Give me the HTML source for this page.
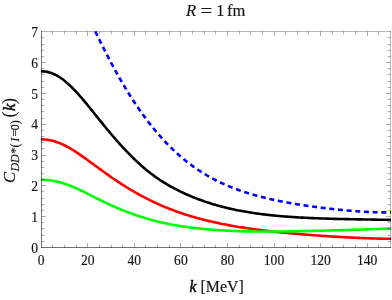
<!DOCTYPE html>
<html><head><meta charset="utf-8"><style>
html,body{margin:0;padding:0;background:#fff;}
svg{display:block;font-family:"Liberation Serif",serif;will-change:transform;opacity:0.999;}
text{stroke:#111;stroke-width:0.15px;}
</style></head><body>
<svg width="392" height="300" viewBox="0 0 392 300">
<rect width="392" height="300" fill="#fff"/>
<defs><clipPath id="c"><rect x="41" y="31" width="350" height="217"/></clipPath></defs>
<g clip-path="url(#c)" fill="none" stroke-width="2.6" stroke-linejoin="round">
<path d="M41.00,139.39 L42.46,139.39 L43.93,139.45 L45.39,139.55 L46.86,139.70 L48.32,139.91 L49.79,140.16 L51.25,140.47 L52.72,140.82 L54.18,141.22 L55.64,141.66 L57.11,142.16 L58.57,142.69 L60.04,143.27 L61.50,143.90 L62.97,144.56 L64.43,145.26 L65.90,146.00 L67.36,146.78 L68.82,147.59 L70.29,148.43 L71.75,149.31 L73.22,150.21 L74.68,151.14 L76.15,152.09 L77.61,153.06 L79.08,154.06 L80.54,155.07 L82.00,156.09 L83.47,157.13 L84.93,158.17 L86.40,159.23 L87.86,160.29 L89.33,161.36 L90.79,162.43 L92.26,163.50 L93.72,164.57 L95.18,165.64 L96.65,166.71 L98.11,167.78 L99.58,168.85 L101.04,169.91 L102.51,170.97 L103.97,172.03 L105.44,173.07 L106.90,174.12 L108.36,175.15 L109.83,176.18 L111.29,177.20 L112.76,178.21 L114.22,179.21 L115.69,180.20 L117.15,181.18 L118.62,182.15 L120.08,183.12 L121.54,184.07 L123.01,185.00 L124.47,185.93 L125.94,186.85 L127.40,187.75 L128.87,188.64 L130.33,189.52 L131.79,190.39 L133.26,191.25 L134.72,192.10 L136.19,192.93 L137.65,193.75 L139.12,194.56 L140.58,195.36 L142.05,196.15 L143.51,196.92 L144.97,197.69 L146.44,198.44 L147.90,199.18 L149.37,199.91 L150.83,200.63 L152.30,201.33 L153.76,202.03 L155.23,202.71 L156.69,203.39 L158.15,204.05 L159.62,204.70 L161.08,205.34 L162.55,205.97 L164.01,206.59 L165.48,207.20 L166.94,207.80 L168.41,208.38 L169.87,208.96 L171.33,209.53 L172.80,210.08 L174.26,210.63 L175.73,211.17 L177.19,211.70 L178.66,212.21 L180.12,212.72 L181.59,213.22 L183.05,213.71 L184.51,214.19 L185.98,214.67 L187.44,215.13 L188.91,215.58 L190.37,216.03 L191.84,216.47 L193.30,216.90 L194.77,217.32 L196.23,217.74 L197.69,218.14 L199.16,218.54 L200.62,218.93 L202.09,219.32 L203.55,219.69 L205.02,220.06 L206.48,220.43 L207.95,220.78 L209.41,221.13 L210.87,221.48 L212.34,221.81 L213.80,222.14 L215.27,222.47 L216.73,222.79 L218.20,223.10 L219.66,223.41 L221.13,223.71 L222.59,224.00 L224.05,224.29 L225.52,224.58 L226.98,224.86 L228.45,225.13 L229.91,225.40 L231.38,225.66 L232.84,225.92 L234.31,226.18 L235.77,226.43 L237.23,226.68 L238.70,226.92 L240.16,227.16 L241.63,227.39 L243.09,227.62 L244.56,227.84 L246.02,228.06 L247.49,228.28 L248.95,228.49 L250.41,228.70 L251.88,228.91 L253.34,229.11 L254.81,229.31 L256.27,229.51 L257.74,229.70 L259.20,229.89 L260.67,230.08 L262.13,230.26 L263.59,230.44 L265.06,230.62 L266.52,230.79 L267.99,230.97 L269.45,231.13 L270.92,231.30 L272.38,231.46 L273.85,231.63 L275.31,231.79 L276.77,231.94 L278.24,232.10 L279.70,232.25 L281.17,232.40 L282.63,232.55 L284.10,232.69 L285.56,232.83 L287.03,232.98 L288.49,233.11 L289.95,233.25 L291.42,233.39 L292.88,233.52 L294.35,233.65 L295.81,233.78 L297.28,233.91 L298.74,234.04 L300.21,234.16 L301.67,234.28 L303.13,234.41 L304.60,234.53 L306.06,234.64 L307.53,234.76 L308.99,234.88 L310.46,234.99 L311.92,235.10 L313.38,235.21 L314.85,235.32 L316.31,235.43 L317.78,235.53 L319.24,235.64 L320.71,235.74 L322.17,235.84 L323.64,235.94 L325.10,236.04 L326.56,236.14 L328.03,236.24 L329.49,236.33 L330.96,236.43 L332.42,236.52 L333.89,236.61 L335.35,236.70 L336.82,236.78 L338.28,236.87 L339.74,236.96 L341.21,237.04 L342.67,237.12 L344.14,237.20 L345.60,237.28 L347.07,237.36 L348.53,237.43 L350.00,237.51 L351.46,237.58 L352.92,237.65 L354.39,237.72 L355.85,237.79 L357.32,237.86 L358.78,237.92 L360.25,237.98 L361.71,238.05 L363.18,238.10 L364.64,238.16 L366.10,238.22 L367.57,238.27 L369.03,238.32 L370.50,238.37 L371.96,238.42 L373.43,238.46 L374.89,238.51 L376.36,238.55 L377.82,238.59 L379.28,238.62 L380.75,238.66 L382.21,238.69 L383.68,238.72 L385.14,238.75 L386.61,238.77 L388.07,238.79 L389.54,238.81 L391.00,238.82" stroke="#ff0000"/>
<path d="M41.00,179.75 L42.46,179.75 L43.93,179.79 L45.39,179.87 L46.86,179.98 L48.32,180.12 L49.79,180.29 L51.25,180.50 L52.72,180.73 L54.18,181.00 L55.64,181.30 L57.11,181.63 L58.57,181.98 L60.04,182.37 L61.50,182.78 L62.97,183.23 L64.43,183.69 L65.90,184.18 L67.36,184.70 L68.82,185.24 L70.29,185.80 L71.75,186.39 L73.22,186.99 L74.68,187.62 L76.15,188.26 L77.61,188.91 L79.08,189.59 L80.54,190.27 L82.00,190.97 L83.47,191.68 L84.93,192.40 L86.40,193.12 L87.86,193.86 L89.33,194.59 L90.79,195.33 L92.26,196.08 L93.72,196.82 L95.18,197.56 L96.65,198.30 L98.11,199.03 L99.58,199.77 L101.04,200.49 L102.51,201.21 L103.97,201.93 L105.44,202.63 L106.90,203.33 L108.36,204.02 L109.83,204.70 L111.29,205.37 L112.76,206.03 L114.22,206.67 L115.69,207.31 L117.15,207.94 L118.62,208.55 L120.08,209.16 L121.54,209.75 L123.01,210.34 L124.47,210.91 L125.94,211.48 L127.40,212.03 L128.87,212.57 L130.33,213.11 L131.79,213.64 L133.26,214.16 L134.72,214.67 L136.19,215.18 L137.65,215.67 L139.12,216.16 L140.58,216.65 L142.05,217.12 L143.51,217.59 L144.97,218.04 L146.44,218.49 L147.90,218.93 L149.37,219.35 L150.83,219.77 L152.30,220.17 L153.76,220.57 L155.23,220.95 L156.69,221.32 L158.15,221.68 L159.62,222.03 L161.08,222.37 L162.55,222.70 L164.01,223.02 L165.48,223.34 L166.94,223.64 L168.41,223.94 L169.87,224.22 L171.33,224.50 L172.80,224.77 L174.26,225.04 L175.73,225.29 L177.19,225.54 L178.66,225.79 L180.12,226.02 L181.59,226.25 L183.05,226.47 L184.51,226.69 L185.98,226.90 L187.44,227.10 L188.91,227.30 L190.37,227.49 L191.84,227.68 L193.30,227.86 L194.77,228.03 L196.23,228.20 L197.69,228.37 L199.16,228.53 L200.62,228.68 L202.09,228.83 L203.55,228.97 L205.02,229.11 L206.48,229.24 L207.95,229.37 L209.41,229.50 L210.87,229.62 L212.34,229.73 L213.80,229.84 L215.27,229.95 L216.73,230.05 L218.20,230.15 L219.66,230.24 L221.13,230.33 L222.59,230.42 L224.05,230.50 L225.52,230.58 L226.98,230.65 L228.45,230.73 L229.91,230.79 L231.38,230.86 L232.84,230.92 L234.31,230.98 L235.77,231.03 L237.23,231.08 L238.70,231.13 L240.16,231.18 L241.63,231.22 L243.09,231.26 L244.56,231.29 L246.02,231.33 L247.49,231.36 L248.95,231.39 L250.41,231.41 L251.88,231.44 L253.34,231.46 L254.81,231.48 L256.27,231.50 L257.74,231.51 L259.20,231.52 L260.67,231.53 L262.13,231.54 L263.59,231.55 L265.06,231.55 L266.52,231.55 L267.99,231.55 L269.45,231.55 L270.92,231.55 L272.38,231.54 L273.85,231.54 L275.31,231.53 L276.77,231.52 L278.24,231.51 L279.70,231.50 L281.17,231.48 L282.63,231.47 L284.10,231.45 L285.56,231.43 L287.03,231.42 L288.49,231.40 L289.95,231.37 L291.42,231.35 L292.88,231.33 L294.35,231.30 L295.81,231.28 L297.28,231.25 L298.74,231.23 L300.21,231.20 L301.67,231.17 L303.13,231.14 L304.60,231.11 L306.06,231.08 L307.53,231.05 L308.99,231.01 L310.46,230.98 L311.92,230.94 L313.38,230.91 L314.85,230.88 L316.31,230.84 L317.78,230.80 L319.24,230.77 L320.71,230.73 L322.17,230.69 L323.64,230.65 L325.10,230.61 L326.56,230.57 L328.03,230.54 L329.49,230.50 L330.96,230.45 L332.42,230.41 L333.89,230.37 L335.35,230.33 L336.82,230.29 L338.28,230.25 L339.74,230.21 L341.21,230.16 L342.67,230.12 L344.14,230.08 L345.60,230.03 L347.07,229.99 L348.53,229.95 L350.00,229.90 L351.46,229.86 L352.92,229.81 L354.39,229.77 L355.85,229.72 L357.32,229.68 L358.78,229.63 L360.25,229.59 L361.71,229.54 L363.18,229.49 L364.64,229.45 L366.10,229.40 L367.57,229.35 L369.03,229.30 L370.50,229.26 L371.96,229.21 L373.43,229.16 L374.89,229.11 L376.36,229.06 L377.82,229.01 L379.28,228.96 L380.75,228.91 L382.21,228.86 L383.68,228.81 L385.14,228.76 L386.61,228.71 L388.07,228.65 L389.54,228.60 L391.00,228.55" stroke="#00ff00"/>
<path d="M41.00,71.34 L42.46,71.34 L43.93,71.42 L45.39,71.58 L46.86,71.82 L48.32,72.14 L49.79,72.54 L51.25,73.02 L52.72,73.58 L54.18,74.22 L55.64,74.93 L57.11,75.71 L58.57,76.57 L60.04,77.50 L61.50,78.50 L62.97,79.57 L64.43,80.70 L65.90,81.90 L67.36,83.15 L68.82,84.47 L70.29,85.84 L71.75,87.27 L73.22,88.74 L74.68,90.26 L76.15,91.83 L77.61,93.43 L79.08,95.07 L80.54,96.75 L82.00,98.45 L83.47,100.18 L84.93,101.92 L86.40,103.69 L87.86,105.48 L89.33,107.27 L90.79,109.08 L92.26,110.89 L93.72,112.71 L95.18,114.53 L96.65,116.36 L98.11,118.18 L99.58,120.00 L101.04,121.82 L102.51,123.62 L103.97,125.42 L105.44,127.22 L106.90,129.00 L108.36,130.76 L109.83,132.52 L111.29,134.26 L112.76,135.98 L114.22,137.69 L115.69,139.38 L117.15,141.05 L118.62,142.70 L120.08,144.33 L121.54,145.94 L123.01,147.53 L124.47,149.09 L125.94,150.64 L127.40,152.16 L128.87,153.66 L130.33,155.14 L131.79,156.60 L133.26,158.04 L134.72,159.45 L136.19,160.84 L137.65,162.21 L139.12,163.56 L140.58,164.88 L142.05,166.18 L143.51,167.45 L144.97,168.71 L146.44,169.93 L147.90,171.13 L149.37,172.30 L150.83,173.45 L152.30,174.57 L153.76,175.66 L155.23,176.73 L156.69,177.77 L158.15,178.78 L159.62,179.77 L161.08,180.73 L162.55,181.67 L164.01,182.58 L165.48,183.47 L166.94,184.35 L168.41,185.20 L169.87,186.03 L171.33,186.84 L172.80,187.64 L174.26,188.42 L175.73,189.18 L177.19,189.93 L178.66,190.66 L180.12,191.39 L181.59,192.09 L183.05,192.78 L184.51,193.46 L185.98,194.13 L187.44,194.78 L188.91,195.42 L190.37,196.04 L191.84,196.65 L193.30,197.25 L194.77,197.84 L196.23,198.41 L197.69,198.98 L199.16,199.53 L200.62,200.07 L202.09,200.59 L203.55,201.11 L205.02,201.61 L206.48,202.11 L207.95,202.59 L209.41,203.06 L210.87,203.52 L212.34,203.97 L213.80,204.41 L215.27,204.84 L216.73,205.26 L218.20,205.67 L219.66,206.07 L221.13,206.47 L222.59,206.85 L224.05,207.22 L225.52,207.59 L226.98,207.94 L228.45,208.29 L229.91,208.63 L231.38,208.96 L232.84,209.28 L234.31,209.59 L235.77,209.90 L237.23,210.20 L238.70,210.49 L240.16,210.77 L241.63,211.05 L243.09,211.31 L244.56,211.58 L246.02,211.83 L247.49,212.08 L248.95,212.32 L250.41,212.55 L251.88,212.78 L253.34,213.00 L254.81,213.22 L256.27,213.43 L257.74,213.63 L259.20,213.83 L260.67,214.02 L262.13,214.21 L263.59,214.39 L265.06,214.57 L266.52,214.74 L267.99,214.91 L269.45,215.07 L270.92,215.23 L272.38,215.38 L273.85,215.53 L275.31,215.67 L276.77,215.81 L278.24,215.94 L279.70,216.07 L281.17,216.20 L282.63,216.32 L284.10,216.44 L285.56,216.55 L287.03,216.66 L288.49,216.77 L289.95,216.88 L291.42,216.98 L292.88,217.07 L294.35,217.17 L295.81,217.26 L297.28,217.35 L298.74,217.43 L300.21,217.52 L301.67,217.60 L303.13,217.67 L304.60,217.75 L306.06,217.82 L307.53,217.89 L308.99,217.96 L310.46,218.02 L311.92,218.09 L313.38,218.15 L314.85,218.21 L316.31,218.27 L317.78,218.32 L319.24,218.37 L320.71,218.43 L322.17,218.48 L323.64,218.53 L325.10,218.57 L326.56,218.62 L328.03,218.66 L329.49,218.71 L330.96,218.75 L332.42,218.79 L333.89,218.83 L335.35,218.87 L336.82,218.90 L338.28,218.94 L339.74,218.97 L341.21,219.01 L342.67,219.04 L344.14,219.07 L345.60,219.10 L347.07,219.14 L348.53,219.17 L350.00,219.20 L351.46,219.22 L352.92,219.25 L354.39,219.28 L355.85,219.31 L357.32,219.34 L358.78,219.36 L360.25,219.39 L361.71,219.41 L363.18,219.44 L364.64,219.46 L366.10,219.49 L367.57,219.51 L369.03,219.54 L370.50,219.56 L371.96,219.59 L373.43,219.61 L374.89,219.63 L376.36,219.66 L377.82,219.68 L379.28,219.70 L380.75,219.73 L382.21,219.75 L383.68,219.77 L385.14,219.80 L386.61,219.82 L388.07,219.84 L389.54,219.86 L391.00,219.89" stroke="#000"/>
<path d="M88.60,17.23 L89.11,18.32 L89.61,19.40 L90.12,20.48 L90.63,21.56 L91.14,22.64 L91.64,23.71 L92.15,24.79 L92.66,25.86 L93.16,26.92 L93.67,27.99 L94.18,29.05 L94.68,30.11 L95.19,31.16 L95.70,32.22 L96.21,33.27 L96.71,34.32 L97.22,35.36 L97.73,36.40 L98.23,37.44 L98.74,38.48 L99.25,39.51 L99.75,40.54 L100.26,41.57 L100.77,42.59 L101.28,43.61 L101.78,44.63 L102.29,45.65 L102.80,46.66 L103.30,47.67 L103.81,48.67 L104.32,49.67 L104.82,50.67 L105.33,51.66 L105.84,52.65 L106.35,53.64 L106.85,54.63 L107.36,55.61 L107.87,56.58 L108.37,57.56 L108.88,58.53 L109.39,59.49 L109.89,60.45 L110.40,61.41 L110.91,62.37 L111.42,63.32 L111.92,64.27 L112.43,65.21 L112.94,66.15 L113.44,67.09 L113.95,68.02 L114.46,68.95 L114.96,69.88 L115.47,70.80 L115.98,71.71 L116.49,72.63 L116.99,73.54 L117.50,74.44 L118.01,75.34 L118.51,76.24 L119.02,77.14 L119.53,78.03 L120.03,78.91 L120.54,79.79 L121.05,80.67 L121.56,81.54 L122.06,82.41 L122.57,83.28 L123.08,84.14 L123.58,85.00 L124.09,85.85 L124.60,86.70 L125.10,87.55 L125.61,88.39 L126.12,89.23 L126.63,90.06 L127.13,90.89 L127.64,91.71 L128.15,92.53 L128.65,93.35 L129.16,94.16 L129.67,94.97 L130.17,95.78 L130.68,96.58 L131.19,97.37 L131.70,98.17 L132.20,98.95 L132.71,99.74 L133.22,100.52 L133.72,101.29 L134.23,102.06 L134.74,102.83 L135.25,103.59 L135.75,104.35 L136.26,105.11 L136.77,105.86 L137.27,106.61 L137.78,107.35 L138.29,108.09 L138.79,108.82 L139.30,109.55 L139.81,110.28 L140.32,111.00 L140.82,111.72 L141.33,112.44 L141.84,113.15 L142.34,113.86 L142.85,114.56 L143.36,115.26 L143.86,115.95 L144.37,116.64 L144.88,117.33 L145.39,118.01 L145.89,118.69 L146.40,119.37 L146.91,120.04 L147.41,120.71 L147.92,121.37 L148.43,122.03 L148.93,122.69 L149.44,123.34 L149.95,123.99 L150.46,124.63 L150.96,125.27 L151.47,125.91 L151.98,126.54 L152.48,127.17 L152.99,127.80 L153.50,128.42 L154.00,129.04 L154.51,129.65 L155.02,130.26 L155.53,130.87 L156.03,131.47 L156.54,132.07 L157.05,132.67 L157.55,133.26 L158.06,133.85 L158.57,134.43 L159.07,135.01 L159.58,135.59 L160.09,136.17 L160.60,136.74 L161.10,137.30 L161.61,137.87 L162.12,138.43 L162.62,138.98 L163.13,139.53 L163.64,140.08 L164.14,140.63 L164.65,141.17 L165.16,141.71 L165.67,142.25 L166.17,142.78 L166.68,143.31 L167.19,143.83 L167.69,144.35 L168.20,144.87 L168.71,145.38 L169.21,145.89 L169.72,146.40 L170.23,146.91 L170.74,147.41 L171.24,147.91 L171.75,148.40 L172.26,148.89 L172.76,149.38 L173.27,149.86 L173.78,150.34 L174.28,150.82 L174.79,151.30 L175.30,151.77 L175.81,152.24 L176.31,152.70 L176.82,153.16 L177.33,153.62 L177.83,154.08 L178.34,154.53 L178.85,154.98 L179.36,155.42 L179.86,155.87 L180.37,156.31 L180.88,156.74 L181.38,157.18 L181.89,157.61 L182.40,158.03 L182.90,158.46 L183.41,158.88 L183.92,159.30 L184.43,159.71 L184.93,160.13 L185.44,160.54 L185.95,160.94 L186.45,161.35 L186.96,161.75 L187.47,162.14 L187.97,162.54 L188.48,162.93 L188.99,163.32 L189.50,163.71 L190.00,164.09 L190.51,164.47 L191.02,164.85 L191.52,165.22 L192.03,165.60 L192.54,165.96 L193.04,166.33 L193.55,166.70 L194.06,167.06 L194.57,167.42 L195.07,167.77 L195.58,168.12 L196.09,168.47 L196.59,168.82 L197.10,169.17 L197.61,169.51 L198.11,169.85 L198.62,170.19 L199.13,170.52 L199.64,170.86 L200.14,171.18 L200.65,171.51 L201.16,171.84 L201.66,172.16 L202.17,172.48 L202.68,172.80 L203.18,173.11 L203.69,173.42 L204.20,173.73 L204.71,174.04 L205.21,174.35 L205.72,174.65 L206.23,174.95 L206.73,175.25 L207.24,175.55 L207.75,175.84 L208.25,176.13 L208.76,176.42 L209.27,176.71 L209.78,176.99 L210.28,177.27 L210.79,177.55 L211.30,177.83 L211.80,178.11 L212.31,178.38 L212.82,178.65 L213.32,178.92 L213.83,179.19 L214.34,179.46 L214.85,179.72 L215.35,179.98 L215.86,180.24 L216.37,180.50 L216.87,180.75 L217.38,181.01 L217.89,181.26 L218.39,181.51 L218.90,181.75 L219.41,182.00 L219.92,182.24 L220.42,182.48 L220.93,182.72 L221.44,182.96 L221.94,183.20 L222.45,183.43 L222.96,183.66 L223.47,183.90 L223.97,184.12 L224.48,184.35 L224.99,184.58 L225.49,184.80 L226.00,185.02 L226.51,185.24 L227.01,185.46 L227.52,185.68 L228.03,185.89 L228.54,186.10 L229.04,186.32 L229.55,186.53 L230.06,186.73 L230.56,186.94 L231.07,187.14 L231.58,187.35 L232.08,187.55 L232.59,187.75 L233.10,187.95 L233.61,188.15 L234.11,188.34 L234.62,188.54 L235.13,188.73 L235.63,188.92 L236.14,189.11 L236.65,189.30 L237.15,189.48 L237.66,189.67 L238.17,189.85 L238.68,190.04 L239.18,190.22 L239.69,190.40 L240.20,190.57 L240.70,190.75 L241.21,190.93 L241.72,191.10 L242.22,191.27 L242.73,191.45 L243.24,191.62 L243.75,191.78 L244.25,191.95 L244.76,192.12 L245.27,192.28 L245.77,192.45 L246.28,192.61 L246.79,192.77 L247.29,192.93 L247.80,193.09 L248.31,193.25 L248.82,193.40 L249.32,193.56 L249.83,193.71 L250.34,193.87 L250.84,194.02 L251.35,194.17 L251.86,194.32 L252.36,194.47 L252.87,194.62 L253.38,194.76 L253.89,194.91 L254.39,195.05 L254.90,195.19 L255.41,195.34 L255.91,195.48 L256.42,195.62 L256.93,195.76 L257.43,195.89 L257.94,196.03 L258.45,196.17 L258.96,196.30 L259.46,196.44 L259.97,196.57 L260.48,196.70 L260.98,196.83 L261.49,196.96 L262.00,197.09 L262.51,197.22 L263.01,197.35 L263.52,197.47 L264.03,197.60 L264.53,197.73 L265.04,197.85 L265.55,197.97 L266.05,198.09 L266.56,198.22 L267.07,198.34 L267.58,198.46 L268.08,198.57 L268.59,198.69 L269.10,198.81 L269.60,198.93 L270.11,199.04 L270.62,199.16 L271.12,199.27 L271.63,199.38 L272.14,199.50 L272.65,199.61 L273.15,199.72 L273.66,199.83 L274.17,199.94 L274.67,200.05 L275.18,200.16 L275.69,200.26 L276.19,200.37 L276.70,200.48 L277.21,200.58 L277.72,200.69 L278.22,200.79 L278.73,200.89 L279.24,200.99 L279.74,201.10 L280.25,201.20 L280.76,201.30 L281.26,201.40 L281.77,201.50 L282.28,201.60 L282.79,201.69 L283.29,201.79 L283.80,201.89 L284.31,201.99 L284.81,202.08 L285.32,202.18 L285.83,202.27 L286.33,202.36 L286.84,202.46 L287.35,202.55 L287.86,202.64 L288.36,202.73 L288.87,202.83 L289.38,202.92 L289.88,203.01 L290.39,203.10 L290.90,203.18 L291.40,203.27 L291.91,203.36 L292.42,203.45 L292.93,203.54 L293.43,203.62 L293.94,203.71 L294.45,203.79 L294.95,203.88 L295.46,203.96 L295.97,204.05 L296.47,204.13 L296.98,204.21 L297.49,204.30 L298.00,204.38 L298.50,204.46 L299.01,204.54 L299.52,204.62 L300.02,204.70 L300.53,204.78 L301.04,204.86 L301.54,204.94 L302.05,205.02 L302.56,205.10 L303.07,205.17 L303.57,205.25 L304.08,205.33 L304.59,205.40 L305.09,205.48 L305.60,205.55 L306.11,205.63 L306.62,205.70 L307.12,205.78 L307.63,205.85 L308.14,205.93 L308.64,206.00 L309.15,206.07 L309.66,206.14 L310.16,206.22 L310.67,206.29 L311.18,206.36 L311.69,206.43 L312.19,206.50 L312.70,206.57 L313.21,206.64 L313.71,206.71 L314.22,206.78 L314.73,206.84 L315.23,206.91 L315.74,206.98 L316.25,207.05 L316.76,207.11 L317.26,207.18 L317.77,207.25 L318.28,207.31 L318.78,207.38 L319.29,207.44 L319.80,207.51 L320.30,207.57 L320.81,207.64 L321.32,207.70 L321.83,207.76 L322.33,207.83 L322.84,207.89 L323.35,207.95 L323.85,208.01 L324.36,208.08 L324.87,208.14 L325.37,208.20 L325.88,208.26 L326.39,208.32 L326.90,208.38 L327.40,208.44 L327.91,208.50 L328.42,208.56 L328.92,208.61 L329.43,208.67 L329.94,208.73 L330.44,208.79 L330.95,208.84 L331.46,208.90 L331.97,208.96 L332.47,209.01 L332.98,209.07 L333.49,209.12 L333.99,209.18 L334.50,209.23 L335.01,209.29 L335.51,209.34 L336.02,209.39 L336.53,209.45 L337.04,209.50 L337.54,209.55 L338.05,209.60 L338.56,209.66 L339.06,209.71 L339.57,209.76 L340.08,209.81 L340.58,209.86 L341.09,209.91 L341.60,209.96 L342.11,210.01 L342.61,210.06 L343.12,210.10 L343.63,210.15 L344.13,210.20 L344.64,210.25 L345.15,210.29 L345.65,210.34 L346.16,210.38 L346.67,210.43 L347.18,210.48 L347.68,210.52 L348.19,210.56 L348.70,210.61 L349.20,210.65 L349.71,210.69 L350.22,210.74 L350.73,210.78 L351.23,210.82 L351.74,210.86 L352.25,210.90 L352.75,210.94 L353.26,210.98 L353.77,211.02 L354.27,211.06 L354.78,211.10 L355.29,211.14 L355.80,211.18 L356.30,211.21 L356.81,211.25 L357.32,211.29 L357.82,211.32 L358.33,211.36 L358.84,211.39 L359.34,211.43 L359.85,211.46 L360.36,211.49 L360.87,211.53 L361.37,211.56 L361.88,211.59 L362.39,211.62 L362.89,211.65 L363.40,211.68 L363.91,211.71 L364.41,211.74 L364.92,211.77 L365.43,211.80 L365.94,211.82 L366.44,211.85 L366.95,211.88 L367.46,211.90 L367.96,211.93 L368.47,211.95 L368.98,211.98 L369.48,212.00 L369.99,212.02 L370.50,212.05 L371.01,212.07 L371.51,212.09 L372.02,212.11 L372.53,212.13 L373.03,212.15 L373.54,212.17 L374.05,212.18 L374.55,212.20 L375.06,212.22 L375.57,212.23 L376.08,212.25 L376.58,212.26 L377.09,212.28 L377.60,212.29 L378.10,212.30 L378.61,212.31 L379.12,212.32 L379.62,212.33 L380.13,212.34 L380.64,212.35 L381.15,212.36 L381.65,212.37 L382.16,212.37 L382.67,212.38 L383.17,212.38 L383.68,212.39 L384.19,212.39 L384.69,212.39 L385.20,212.40 L385.71,212.40 L386.22,212.40 L386.72,212.40 L387.23,212.39 L387.74,212.39 L388.24,212.39 L388.75,212.38 L389.26,212.38 L389.76,212.37 L390.27,212.37 L390.78,212.36 L391.29,212.35 L391.79,212.34 L392.30,212.33" stroke="#0000ff" stroke-dasharray="5.00 3.688" stroke-dashoffset="1.781"/>
</g>
<g fill="none" stroke="#000" stroke-width="1">
<path d="M52.5,31.5 v2.8 M64.5,31.5 v2.8 M76.5,31.5 v2.8 M87.5,31.5 v4.5 M99.5,31.5 v2.8 M111.5,31.5 v2.8 M122.5,31.5 v2.8 M134.5,31.5 v4.5 M145.5,31.5 v2.8 M157.5,31.5 v2.8 M169.5,31.5 v2.8 M180.5,31.5 v4.5 M192.5,31.5 v2.8 M204.5,31.5 v2.8 M215.5,31.5 v2.8 M227.5,31.5 v4.5 M239.5,31.5 v2.8 M250.5,31.5 v2.8 M262.5,31.5 v2.8 M274.5,31.5 v4.5 M285.5,31.5 v2.8 M297.5,31.5 v2.8 M308.5,31.5 v2.8 M320.5,31.5 v4.5 M332.5,31.5 v2.8 M343.5,31.5 v2.8 M355.5,31.5 v2.8 M367.5,31.5 v4.5 M378.5,31.5 v2.8 M390.5,241.5 h-2.8 M390.5,235.5 h-2.8 M390.5,228.5 h-2.8 M390.5,222.5 h-2.8 M390.5,216.5 h-4.5 M390.5,210.5 h-2.8 M390.5,204.5 h-2.8 M390.5,198.5 h-2.8 M390.5,191.5 h-2.8 M390.5,185.5 h-4.5 M390.5,179.5 h-2.8 M390.5,173.5 h-2.8 M390.5,167.5 h-2.8 M390.5,161.5 h-2.8 M390.5,155.5 h-4.5 M390.5,148.5 h-2.8 M390.5,142.5 h-2.8 M390.5,136.5 h-2.8 M390.5,130.5 h-2.8 M390.5,124.5 h-4.5 M390.5,118.5 h-2.8 M390.5,111.5 h-2.8 M390.5,105.5 h-2.8 M390.5,99.5 h-2.8 M390.5,93.5 h-4.5 M390.5,87.5 h-2.8 M390.5,81.5 h-2.8 M390.5,74.5 h-2.8 M390.5,68.5 h-2.8 M390.5,62.5 h-4.5 M390.5,56.5 h-2.8 M390.5,50.5 h-2.8 M390.5,44.5 h-2.8 M390.5,37.5 h-2.8" stroke-opacity="0.33"/>
<path d="M52.5,247.5 v-2.8 M64.5,247.5 v-2.8 M76.5,247.5 v-2.8 M87.5,247.5 v-4.5 M99.5,247.5 v-2.8 M111.5,247.5 v-2.8 M122.5,247.5 v-2.8 M134.5,247.5 v-4.5 M145.5,247.5 v-2.8 M157.5,247.5 v-2.8 M169.5,247.5 v-2.8 M180.5,247.5 v-4.5 M192.5,247.5 v-2.8 M204.5,247.5 v-2.8 M215.5,247.5 v-2.8 M227.5,247.5 v-4.5 M239.5,247.5 v-2.8 M250.5,247.5 v-2.8 M262.5,247.5 v-2.8 M274.5,247.5 v-4.5 M285.5,247.5 v-2.8 M297.5,247.5 v-2.8 M308.5,247.5 v-2.8 M320.5,247.5 v-4.5 M332.5,247.5 v-2.8 M343.5,247.5 v-2.8 M355.5,247.5 v-2.8 M367.5,247.5 v-4.5 M378.5,247.5 v-2.8 M41.5,241.5 h2.8 M41.5,235.5 h2.8 M41.5,228.5 h2.8 M41.5,222.5 h2.8 M41.5,216.5 h4.5 M41.5,210.5 h2.8 M41.5,204.5 h2.8 M41.5,198.5 h2.8 M41.5,191.5 h2.8 M41.5,185.5 h4.5 M41.5,179.5 h2.8 M41.5,173.5 h2.8 M41.5,167.5 h2.8 M41.5,161.5 h2.8 M41.5,155.5 h4.5 M41.5,148.5 h2.8 M41.5,142.5 h2.8 M41.5,136.5 h2.8 M41.5,130.5 h2.8 M41.5,124.5 h4.5 M41.5,118.5 h2.8 M41.5,111.5 h2.8 M41.5,105.5 h2.8 M41.5,99.5 h2.8 M41.5,93.5 h4.5 M41.5,87.5 h2.8 M41.5,81.5 h2.8 M41.5,74.5 h2.8 M41.5,68.5 h2.8 M41.5,62.5 h4.5 M41.5,56.5 h2.8 M41.5,50.5 h2.8 M41.5,44.5 h2.8 M41.5,37.5 h2.8" stroke-opacity="0.33"/>
<path d="M41.0,31.5 H391.0" stroke-opacity="0.29"/>
<path d="M390.5,31.0 V248.0" stroke-opacity="0.29"/>
<path d="M41.5,31.0 V248.0" stroke-opacity="0.56"/>
<path d="M41.0,247.5 H391.0" stroke-opacity="0.56"/>
</g>
<g font-size="15.4" fill="#111"><text transform="translate(41.25,265.4) scale(0.883,1)" text-anchor="middle">0</text><text transform="translate(87.80,265.4) scale(0.883,1)" text-anchor="middle">20</text><text transform="translate(134.36,265.4) scale(0.883,1)" text-anchor="middle">40</text><text transform="translate(180.91,265.4) scale(0.883,1)" text-anchor="middle">60</text><text transform="translate(227.47,265.4) scale(0.883,1)" text-anchor="middle">80</text><text transform="translate(274.02,265.4) scale(0.883,1)" text-anchor="middle">100</text><text transform="translate(320.57,265.4) scale(0.883,1)" text-anchor="middle">120</text><text transform="translate(367.13,265.4) scale(0.883,1)" text-anchor="middle">140</text><text transform="translate(38.0,252.60) scale(0.883,1)" text-anchor="end">0</text><text transform="translate(38.0,221.79) scale(0.883,1)" text-anchor="end">1</text><text transform="translate(38.0,190.99) scale(0.883,1)" text-anchor="end">2</text><text transform="translate(38.0,160.18) scale(0.883,1)" text-anchor="end">3</text><text transform="translate(38.0,129.37) scale(0.883,1)" text-anchor="end">4</text><text transform="translate(38.0,98.56) scale(0.883,1)" text-anchor="end">5</text><text transform="translate(38.0,67.76) scale(0.883,1)" text-anchor="end">6</text><text transform="translate(38.0,36.95) scale(0.883,1)" text-anchor="end">7</text></g>
<g font-size="16.5" fill="#111">
<text x="186.1" y="15.5" font-style="italic">R</text>
<text transform="translate(206.3,17.2) scale(1.27,1.12)" text-anchor="middle">=</text>
<text x="216.2" y="15.5">1</text>
<text x="226.9" y="15.5">fm</text>
</g>
<g font-size="17" fill="#111">
<text transform="translate(189.5,291.9) scale(0.92,1)" font-style="italic" style="stroke-width:0.5px">k</text>
<text transform="translate(200.6,291.9) scale(0.932,1)">[MeV]</text>
</g>
<g transform="translate(15,182.4) rotate(-90)" fill="#111">
<text font-size="16.5" font-style="italic" x="-0.6" y="0">C</text>
<text font-size="12" font-style="italic" x="10.8 19.5" y="3.6">DD</text>
<text font-size="12" x="28.6 35.0" y="3.6">*(</text>
<text font-size="12" font-style="italic" x="40.6" y="3.6">I</text>
<text font-size="12" x="45.9 52.2 58.1" y="3.6">=0)</text>
<text font-size="18" x="64.8" y="0.4">(</text>
<text font-size="16.5" font-style="italic" style="stroke-width:0.5px" x="71.4" y="0.4">k</text>
<text font-size="18" x="78.5" y="0.4">)</text>
</g>
</svg>
</body></html>
